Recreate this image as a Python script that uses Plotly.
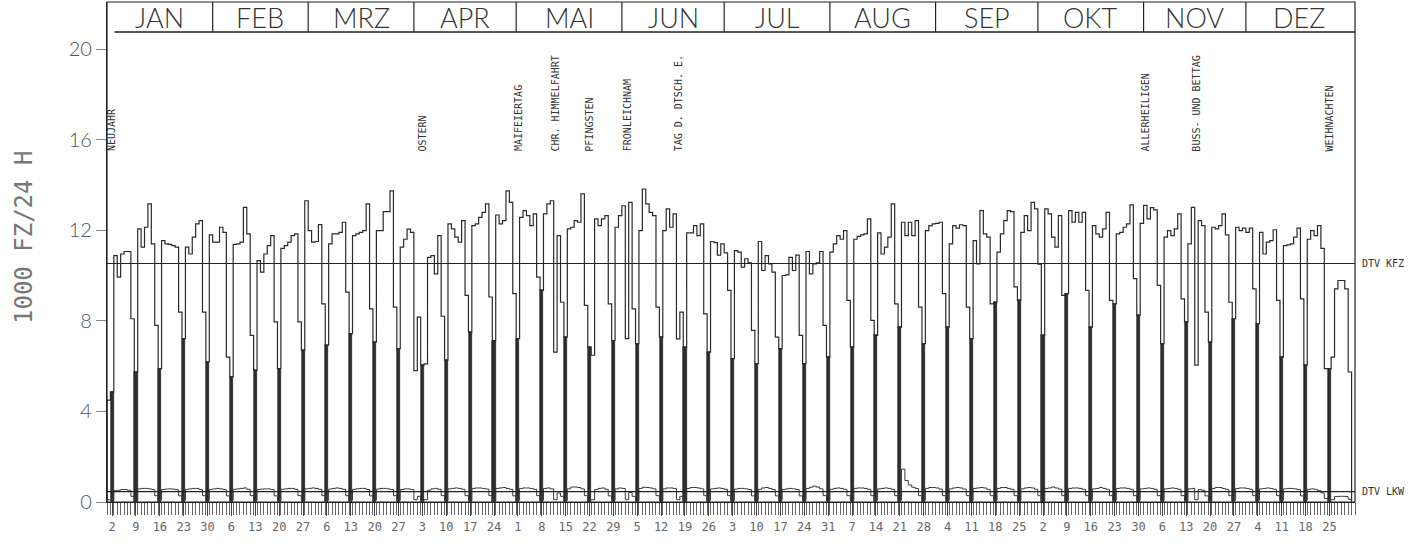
import plotly.graph_objects as go

# Monate und Tage (1983)
months = ["JAN", "FEB", "MRZ", "APR", "MAI", "JUN", "JUL", "AUG", "SEP", "OKT", "NOV", "DEZ"]
month_days = [31, 28, 31, 30, 31, 30, 31, 31, 30, 31, 30, 31]

# Tageswerte KFZ (1000 Fz/24 h)
kfz_jan = [4.5, 4.86,
           10.88, 9.93, 10.95, 11.06, 11.06, 8.09, 5.74,
           12.06, 11.25, 12.13, 13.16, 11.4, 7.8, 5.89,
           11.54, 11.4, 11.37, 11.32, 11.25, 8.38, 7.21,
           11.25, 10.95, 11.69, 12.28, 12.42, 8.38, 6.18,
           11.79]
kfz_feb = [11.47, 11.47, 12.13, 11.9, 6.4, 5.52,
           11.37, 11.4, 11.47, 13.01, 11.84, 7.36, 5.81,
           10.66, 10.15, 10.95, 11.32, 11.76, 7.95, 5.89,
           11.2, 11.32, 11.47, 11.76, 11.84, 7.95, 6.7,
           13.3]
kfz_mar = [11.98, 11.47, 11.5, 12.25, 8.75, 6.92,
           11.4, 11.84, 11.84, 11.9, 12.35, 9.27, 7.43,
           11.76, 11.84, 11.9, 11.98, 13.16, 8.53, 7.06,
           11.98, 11.98, 12.82, 12.82, 13.74, 8.6, 6.77,
           11.25, 11.6, 12.05, 11.9]
kfz_apr = [5.8, 8.16, 6.04,
           6.1, 10.8, 10.88, 10.07, 11.76, 8.2, 6.26,
           12.28, 12.06, 11.69, 11.47, 12.42, 9.12, 7.5,
           12.2, 12.28, 12.57, 12.79, 13.16, 9.05, 7.13,
           12.67, 12.28, 12.42, 13.74, 13.23, 9.2]
kfz_mai = [7.21,
           12.57, 12.86, 12.64, 12.2, 12.72, 9.93, 9.34,
           12.72, 13.16, 13.3, 6.62, 11.76, 8.82, 7.28,
           12.06, 12.13, 12.42, 12.35, 13.6, 8.68, 6.84,
           6.48, 12.5, 12.2, 12.5, 12.64, 8.75, 7.13,
           12.13, 12.64]
kfz_jun = [13.08, 7.21, 13.23, 8.53, 6.99,
           11.98, 13.82, 13.16, 12.79, 12.64, 8.6, 7.28,
           11.98, 12.94, 12.13, 12.72, 7.2, 8.38, 6.84,
           11.88, 11.88, 12.2, 11.76, 12.28, 8.31, 6.62,
           11.5, 11.45, 10.9, 11.4]
kfz_jul = [11.0, 9.34, 6.33,
           11.1, 11.03, 10.37, 10.74, 10.56, 7.58, 6.11,
           11.5, 10.22, 10.88, 10.51, 10.15, 7.28, 6.77,
           10.0, 10.03, 10.8, 10.22, 10.9, 7.36, 6.11,
           11.06, 10.07, 10.51, 10.56, 11.06, 7.8, 6.4]
kfz_aug = [11.03, 11.4, 11.76, 11.6, 11.98, 8.9, 6.84,
           11.6, 11.73, 11.79, 11.84, 12.5, 8.02, 7.36,
           11.88, 10.95, 11.25, 11.69, 13.16, 8.75, 7.72,
           12.35, 11.76, 12.35, 11.76, 12.42, 8.6, 6.99,
           11.98, 12.2, 12.28]
kfz_sep = [12.3, 12.35, 9.2, 7.72,
           11.4, 12.2, 12.09, 12.24, 12.2, 8.6, 7.21,
           11.54, 10.51, 12.86, 11.84, 11.69, 8.75, 8.82,
           11.03, 11.84, 12.42, 12.86, 12.82, 9.5, 8.9,
           11.9, 12.64, 11.98, 13.23, 12.94]
kfz_okt = [10.5, 7.36,
           12.94, 12.72, 11.69, 11.25, 12.64, 9.12, 9.2,
           12.86, 12.35, 12.79, 12.35, 12.79, 9.34, 7.72,
           12.2, 11.84, 11.69, 12.06, 12.79, 8.9, 8.75,
           11.84, 11.9, 12.13, 12.28, 13.12, 9.86, 8.24,
           12.3]
kfz_nov = [13.1, 12.5, 13.0, 12.9, 9.56, 6.99,
           11.69, 11.98, 11.76, 12.06, 12.72, 8.97, 7.95,
           11.4, 13.01, 6.04, 12.42, 12.2, 8.38, 7.06,
           12.13, 12.06, 12.2, 12.72, 11.79, 8.82, 8.09,
           12.13, 11.98, 12.09]
kfz_dez = [11.9, 12.09, 9.41, 7.87,
           11.9, 10.95, 11.47, 11.54, 12.02, 8.9, 6.4,
           11.32, 11.35, 11.4, 11.69, 12.09, 8.97, 6.04,
           11.6, 11.98, 11.76, 12.2, 11.2, 5.89, 5.89,
           6.4, 9.41, 9.78, 9.78, 9.41, 5.74]

# Tageswerte LKW (1000 Fz/24 h)
lkw_jan = [0.1, 0.08,
           0.5, 0.52, 0.55, 0.55, 0.52, 0.25, 0.08,
           0.58, 0.6, 0.6, 0.58, 0.55, 0.28, 0.08,
           0.55, 0.57, 0.58, 0.57, 0.54, 0.27, 0.08,
           0.56, 0.58, 0.6, 0.6, 0.55, 0.28, 0.08,
           0.55]
lkw_feb = [0.58, 0.6, 0.58, 0.55, 0.27, 0.08,
           0.56, 0.58, 0.6, 0.62, 0.56, 0.28, 0.08,
           0.55, 0.57, 0.58, 0.58, 0.55, 0.27, 0.08,
           0.56, 0.58, 0.6, 0.6, 0.56, 0.28, 0.08,
           0.58]
lkw_mar = [0.6, 0.62, 0.6, 0.56, 0.28, 0.08,
           0.57, 0.6, 0.62, 0.6, 0.56, 0.28, 0.08,
           0.56, 0.58, 0.6, 0.6, 0.55, 0.27, 0.08,
           0.57, 0.6, 0.6, 0.58, 0.55, 0.28, 0.08,
           0.55, 0.58, 0.58, 0.55]
lkw_apr = [0.1, 0.25, 0.08,
           0.1, 0.52, 0.58, 0.6, 0.56, 0.28, 0.08,
           0.58, 0.6, 0.62, 0.6, 0.56, 0.28, 0.08,
           0.6, 0.62, 0.62, 0.6, 0.57, 0.28, 0.08,
           0.6, 0.62, 0.64, 0.6, 0.56, 0.27]
lkw_mai = [0.08,
           0.6, 0.62, 0.62, 0.6, 0.56, 0.28, 0.08,
           0.6, 0.62, 0.58, 0.1, 0.4, 0.25, 0.08,
           0.58, 0.66, 0.66, 0.64, 0.58, 0.28, 0.08,
           0.1, 0.55, 0.6, 0.62, 0.56, 0.27, 0.08,
           0.58, 0.62]
lkw_jun = [0.6, 0.1, 0.42, 0.25, 0.08,
           0.6, 0.65, 0.64, 0.62, 0.58, 0.28, 0.08,
           0.58, 0.62, 0.62, 0.6, 0.1, 0.25, 0.08,
           0.6, 0.64, 0.64, 0.62, 0.58, 0.28, 0.08,
           0.58, 0.6, 0.62, 0.6]
lkw_jul = [0.56, 0.28, 0.08,
           0.57, 0.6, 0.6, 0.58, 0.55, 0.27, 0.08,
           0.56, 0.62, 0.64, 0.6, 0.55, 0.27, 0.08,
           0.55, 0.58, 0.6, 0.58, 0.55, 0.27, 0.08,
           0.6, 0.65, 0.7, 0.66, 0.58, 0.28, 0.08]
lkw_aug = [0.56, 0.6, 0.62, 0.6, 0.56, 0.28, 0.08,
           0.6, 0.62, 0.62, 0.6, 0.56, 0.28, 0.08,
           0.58, 0.6, 0.62, 0.6, 0.56, 0.28, 0.08,
           1.45, 0.95, 0.75, 0.65, 0.6, 0.28, 0.08,
           0.6, 0.64, 0.64]
lkw_sep = [0.62, 0.57, 0.28, 0.08,
           0.58, 0.62, 0.64, 0.62, 0.57, 0.28, 0.08,
           0.6, 0.62, 0.64, 0.62, 0.56, 0.28, 0.08,
           0.6, 0.64, 0.64, 0.6, 0.56, 0.28, 0.08,
           0.58, 0.62, 0.64, 0.62, 0.56]
lkw_okt = [0.28, 0.08,
           0.6, 0.62, 0.66, 0.62, 0.57, 0.28, 0.08,
           0.6, 0.62, 0.62, 0.6, 0.56, 0.28, 0.08,
           0.58, 0.6, 0.64, 0.6, 0.56, 0.28, 0.08,
           0.6, 0.62, 0.62, 0.6, 0.56, 0.28, 0.08,
           0.58]
lkw_nov = [0.6, 0.62, 0.6, 0.56, 0.28, 0.08,
           0.58, 0.6, 0.62, 0.6, 0.56, 0.28, 0.08,
           0.58, 0.6, 0.1, 0.55, 0.52, 0.27, 0.08,
           0.6, 0.64, 0.64, 0.6, 0.56, 0.28, 0.08,
           0.6, 0.62, 0.62]
lkw_dez = [0.6, 0.56, 0.28, 0.08,
           0.58, 0.6, 0.62, 0.6, 0.56, 0.28, 0.08,
           0.58, 0.6, 0.6, 0.58, 0.55, 0.27, 0.08,
           0.56, 0.58, 0.56, 0.5, 0.4, 0.15, 0.08,
           0.1, 0.24, 0.25, 0.25, 0.24, 0.12]

# Sonntage (Achsbeschriftung)
sunday_labels = ["2", "9", "16", "23", "30", "6", "13", "20", "27", "6", "13", "20", "27",
                 "3", "10", "17", "24", "1", "8", "15", "22", "29", "5", "12", "19", "26",
                 "3", "10", "17", "24", "31", "7", "14", "21", "28", "4", "11", "18", "25",
                 "2", "9", "16", "23", "30", "6", "13", "20", "27", "4", "11", "18", "25"]

# Feiertage (Tag im Jahr)
holiday_names = ["NEUJAHR", "OSTERN", "MAIFEIERTAG", "CHR. HIMMELFAHRT", "PFINGSTEN",
                 "FRONLEICHNAM", "TAG D. DTSCH. E.", "ALLERHEILIGEN", "BUSS- UND BETTAG",
                 "WEIHNACHTEN"]
holiday_days = [1, 93, 121, 132, 142, 153, 168, 305, 320, 359]

dtv_kfz = 10.53
dtv_lkw = 0.46

kfz = (kfz_jan + kfz_feb + kfz_mar + kfz_apr + kfz_mai + kfz_jun +
       kfz_jul + kfz_aug + kfz_sep + kfz_okt + kfz_nov + kfz_dez)
lkw = (lkw_jan + lkw_feb + lkw_mar + lkw_apr + lkw_mai + lkw_jun +
       lkw_jul + lkw_aug + lkw_sep + lkw_okt + lkw_nov + lkw_dez)
n = len(kfz)

sun_idx = [i for i in range(n) if i % 7 == 1]  # 2. Januar 1983 = Sonntag

fig = go.Figure()

# Sonntage als dunkle Balken
fig.add_trace(go.Bar(x=[i + 0.5 for i in sun_idx], y=[kfz[i] for i in sun_idx],
                     width=0.9, marker=dict(color="#2e2e2e", line=dict(color="#111", width=0.6)),
                     hoverinfo="skip"))

# Tagesganglinie KFZ
fig.add_trace(go.Scatter(x=[0] + list(range(n)) + [n, n],
                         y=[0] + kfz + [kfz[-1], 0],
                         mode="lines", line=dict(shape="hv", color="#2a2a2a", width=1.2)))

# Tagesganglinie LKW
fig.add_trace(go.Scatter(x=list(range(n)) + [n], y=lkw + [lkw[-1]],
                         mode="lines", line=dict(shape="hv", color="#3a3a3a", width=1)))

shapes = []
# DTV-Linien
for v in (dtv_kfz, dtv_lkw):
    shapes.append(dict(type="line", xref="x", yref="y", x0=0, x1=366, y0=v, y1=v,
                       line=dict(color="#222", width=1.2)))
# Rahmen
shapes.append(dict(type="rect", xref="paper", yref="paper", x0=0, x1=1, y0=0, y1=1,
                   line=dict(color="#222", width=1.2)))
head_y = 0.94
shapes.append(dict(type="line", xref="paper", yref="paper", x0=0.006, x1=1, y0=head_y, y1=head_y,
                   line=dict(color="#222", width=1.5)))

annotations = []
start = 0
for name, nd in zip(months, month_days):
    end = start + nd
    if end < n:
        shapes.append(dict(type="line", xref="x", yref="paper", x0=end, x1=end, y0=head_y, y1=1,
                           line=dict(color="#222", width=1.2)))
    annotations.append(dict(x=(start + end) / 2, y=(head_y + 1) / 2, xref="x", yref="paper",
                            text=name, showarrow=False, xanchor="center", yanchor="middle",
                            font=dict(family="Lato", size=27, weight=300, color="#333")))
    start = end

for name, d in zip(holiday_names, holiday_days):
    annotations.append(dict(x=max(d - 0.5, 1.3), y=15.4, xref="x", yref="y", text=name,
                            textangle=-90, showarrow=False, yanchor="bottom", xanchor="center",
                            font=dict(family="DejaVu Sans Mono", size=10, color="#333")))

annotations.append(dict(x=1.004, y=dtv_kfz, xref="paper", yref="y", text="DTV KFZ",
                        showarrow=False, xanchor="left", yanchor="middle",
                        font=dict(family="DejaVu Sans Mono", size=10, color="#333")))
annotations.append(dict(x=1.004, y=dtv_lkw, xref="paper", yref="y", text="DTV LKW",
                        showarrow=False, xanchor="left", yanchor="middle",
                        font=dict(family="DejaVu Sans Mono", size=10, color="#333")))
annotations.append(dict(x=-0.0665, y=0.528, xref="paper", yref="paper", text="1000 FZ/24 H",
                        textangle=-90, showarrow=False, xanchor="center", yanchor="middle",
                        font=dict(family="DejaVu Sans Mono", size=24, color="#777")))

fig.update_layout(
    width=1426, height=546,
    margin=dict(l=107, r=71, t=2, b=44),
    paper_bgcolor="white", plot_bgcolor="white",
    showlegend=False, bargap=0,
    shapes=shapes, annotations=annotations,
    xaxis=dict(range=[0, 366], showgrid=False, zeroline=False,
               showline=True, linecolor="#222", linewidth=1.2,
               tickmode="array", tickvals=[i + 0.5 for i in sun_idx], ticktext=sunday_labels,
               ticks="outside", ticklen=13, tickcolor="#444", tickwidth=1,
               minor=dict(tickmode="linear", tick0=0, dtick=1, ticks="outside",
                          ticklen=12, tickcolor="#666", tickwidth=1),
               tickfont=dict(family="DejaVu Sans Mono", size=12, color="#666")),
    yaxis=dict(range=[0, 22.075], showgrid=False, zeroline=False,
               showline=True, linecolor="#222", linewidth=1.2,
               tickvals=[0, 4, 8, 12, 16, 20], ticks="outside", ticklen=10,
               tickcolor="#888", tickfont=dict(family="Lato", size=20, weight=300, color="#555")),
)

fig.write_html("out.html", config={"displayModeBar": False},
               post_script="document.body.style.margin='0px';")
